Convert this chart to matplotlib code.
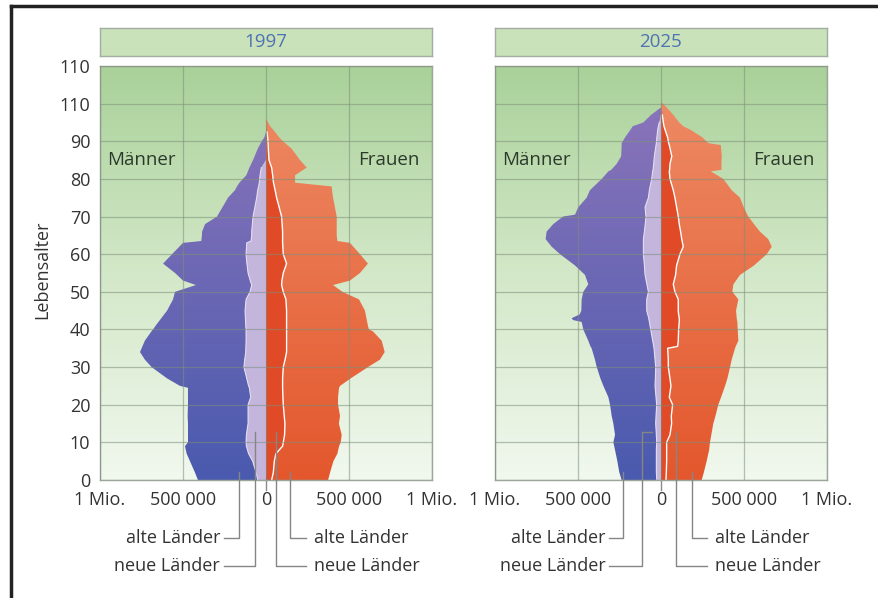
import matplotlib
matplotlib.use('Agg')
import matplotlib.pyplot as plt
import numpy as np
from matplotlib.colors import LinearSegmentedColormap
from matplotlib.lines import Line2D

plt.rcParams['font.family'] = ['Open Sans', 'DejaVu Sans']

# --- Daten (Tausend Personen) ---
ages_1997 = [0, 2, 5, 7, 9, 10, 12, 15, 17, 20, 22, 24.5, 25, 27, 30, 32, 34, 37, 39.5, 40,
             41, 45, 48, 50, 51.8, 53, 55, 57.5, 60, 63, 63.5, 65, 66, 68, 70, 75, 77, 78, 79,
             81, 83, 85, 88, 90, 91, 92.5, 94, 96]
men_total_1997 = [410, 428, 458, 478, 488, 470, 470, 470, 472, 470, 470, 470, 518, 596, 689, 730,
                  759, 730, 690, 680, 665, 596, 560, 548, 422, 500, 548, 620, 566, 500, 390, 386,
                  385, 367, 295, 229, 187, 175, 160, 118, 100, 78, 50, 26, 10, 0, 0, 0]
men_neue_1997 = [50, 60, 80, 105, 118, 120, 118, 108, 108, 108, 92, 100, 105, 116, 133, 128, 122,
                 120, 120, 120, 122, 126, 120, 96, 86, 95, 108, 115, 120, 116, 90, 86, 86, 82, 78,
                 56, 50, 45, 40, 36, 28, 0, 0, 0, 0, 0, 0, 0]
women_total_1997 = [374, 386, 406, 430, 440, 450, 456, 439, 446, 434, 434, 440, 446, 510, 614, 687,
                    715, 697, 644, 620, 614, 596, 560, 460, 404, 506, 566, 614, 566, 506, 430, 426,
                    426, 426, 426, 404, 398, 396, 175, 175, 245, 205, 155, 102, 80, 54, 25, 0]
women_neue_1997 = [34, 44, 50, 60, 100, 104, 112, 114, 110, 104, 102, 100, 100, 100, 104, 115, 124,
                   124, 124, 124, 124, 124, 120, 104, 94, 96, 104, 124, 104, 100, 100, 100, 100, 97,
                   94, 64, 55, 50, 45, 40, 34, 18, 14, 12, 10, 6, 0, 0]

ages_2025 = [0, 2, 5, 8, 10, 12, 15, 17, 20, 22, 25, 27, 30, 32, 35, 35.5, 37, 40, 42, 42.5, 43,
             44, 45, 48, 50, 52, 54.5, 57, 60, 62, 64, 66, 68, 70, 70.5, 72.5, 75, 77, 80, 82,
             82.4, 84, 86, 89, 89.5, 91, 93, 94, 95, 97, 99, 100.5]
men_total_2025 = [237, 251, 263, 277, 287, 277, 287, 297, 307, 317, 347, 365, 387, 398, 418, 425,
                  438, 468, 478, 530, 538, 490, 480, 478, 468, 438, 458, 518, 608, 659, 695, 689,
                  649, 590, 518, 498, 448, 428, 357, 317, 300, 267, 240, 237, 237, 217, 185, 170,
                  106, 60, 0, 0]
men_neue_2025 = [25, 28, 28, 28, 26, 28, 32, 30, 26, 30, 36, 34, 32, 36, 42, 44, 50, 62, 70, 72,
                 74, 80, 86, 86, 76, 85, 96, 100, 106, 106, 106, 100, 95, 90, 92, 96, 76, 70, 56,
                 50, 48, 44, 40, 30, 28, 25, 20, 16, 10, 0, 0, 0]
women_total_2025 = [245, 258, 275, 290, 295, 303, 315, 328, 345, 362, 386, 400, 416, 426, 446, 450,
                    466, 462, 460, 458, 456, 454, 452, 466, 430, 436, 476, 560, 637, 667, 646, 596,
                    560, 526, 520, 498, 476, 426, 375, 300, 364, 364, 366, 360, 285, 250, 180, 134,
                    110, 74, 34, 0]
women_neue_2025 = [30, 32, 34, 34, 34, 54, 64, 62, 70, 50, 60, 54, 44, 44, 40, 100, 104, 106, 110,
                   110, 110, 106, 104, 104, 84, 74, 88, 94, 114, 134, 125, 118, 110, 104, 102, 94,
                   84, 74, 54, 50, 52, 54, 65, 50, 46, 40, 25, 18, 14, 8, 0, 0]

years = ['1997', '2025']
x_ticks = [-1e6, -5e5, 0, 5e5, 1e6]
x_labels = ['1 Mio.', '500 000', '0', '500 000', '1 Mio.']
y_ticks = list(range(0, 111, 10))
y_labels = ['0', '10', '20', '30', '40', '50', '60', '70', '80', '90', '110', '110']

panels = [
    (ages_1997, men_total_1997, men_neue_1997, women_total_1997, women_neue_1997),
    (ages_2025, men_total_2025, men_neue_2025, women_total_2025, women_neue_2025),
]

# Positionen der Hinweislinien (Daten-x) je Panel: Männer alt, Männer neu, Frauen neu, Frauen alt
leaders = [
    (-161e3, -66e3, 60e3, 145e3, -253e3, 241e3),
    (-231e3, -116e3, 90e3, 185e3, -311e3, 275e3),
]

W, H = 879, 598
fig = plt.figure(figsize=(W / 100, H / 100), dpi=100)
fig.patch.set_facecolor('white')

bg_cmap = LinearSegmentedColormap.from_list('bg', ['#f1f8ee', '#d3e8c8', '#a9d199'])
grad = np.linspace(0, 1, 256)[:, None]


def grad_fill(ax, ages, x0, x1, c_bot, c_top):
    poly = ax.fill_betweenx(ages, x0, x1, facecolor='none', edgecolor='none')
    cmap = LinearSegmentedColormap.from_list('f', [c_bot, c_top])
    im = ax.imshow(grad, cmap=cmap, extent=(-1e6, 1e6, 0, 100), origin='lower',
                   aspect='auto', zorder=2, interpolation='bilinear')
    im.set_clip_path(poly.get_paths()[0], transform=ax.transData)


for i, (ages, m_tot, m_neu, w_tot, w_neu) in enumerate(panels):
    left = (100 if i == 0 else 495) / W
    ax = fig.add_axes([left, (H - 480) / H, 332 / W, 414 / H])
    ages = np.array(ages)
    m_tot = np.array(m_tot) * 1e3
    m_neu = np.array(m_neu) * 1e3
    w_tot = np.array(w_tot) * 1e3
    w_neu = np.array(w_neu) * 1e3

    ax.imshow(grad, cmap=bg_cmap, extent=(-1e6, 1e6, 0, 110), origin='lower',
              aspect='auto', zorder=0)

    # Männer: alte Länder außen, neue Länder innen
    grad_fill(ax, ages, -m_tot, -m_neu, '#4a5aae', '#8a74ba')
    ax.fill_betweenx(ages, -m_neu, 0, facecolor='#c4b5dd', edgecolor='none', zorder=2.2)
    ax.plot(-m_neu[m_neu > 0], ages[m_neu > 0], color='#e4dcf0', lw=0.8, zorder=2.3)
    # Frauen
    grad_fill(ax, ages, w_neu, w_tot, '#e4572d', '#ed8963')
    ax.fill_betweenx(ages, 0, w_neu, facecolor='#e04a26', edgecolor='none', zorder=2.2)
    ax.plot(w_neu[w_neu > 0], ages[w_neu > 0], color='white', lw=1.0, zorder=2.3)

    ax.set_xlim(-1e6, 1e6)
    ax.set_ylim(0, 110)
    ax.set_axisbelow(False)
    ax.set_xticks(x_ticks)
    ax.set_yticks(y_ticks)
    ax.grid(True, color='#7d8f7a', lw=0.9, alpha=0.55)
    ax.set_xticklabels(x_labels)
    if i == 0:
        ax.set_yticklabels(y_labels)
    else:
        ax.set_yticklabels([])
    ax.tick_params(length=0, labelsize=13, colors='#333333', pad=8)
    ax.tick_params(axis='y', pad=7)
    for s in ax.spines.values():
        s.set_color('#9aa69a')
        s.set_linewidth(1)

    ax.text(-0.955e6, 85, 'Männer', fontsize=13.5, color='#2c3a2c', ha='left', va='center', zorder=4)
    ax.text(0.925e6, 85, 'Frauen', fontsize=13.5, color='#2c3a2c', ha='right', va='center', zorder=4)

    # kleiner Strich bei 0
    ax.plot([0, 0], [0, -2.6], color='#8a8a8a', lw=1, clip_on=False)

    # Hinweislinien
    ma, mn, wn, wa, lend, rend = leaders[i]
    y_alt, y_neu = -15.5, -22.8
    lc = '#858585'
    ax.plot([ma, ma, lend], [2.2, y_alt, y_alt], color=lc, lw=1, clip_on=False, zorder=5)
    ax.plot([mn, mn, lend], [12.8, y_neu, y_neu], color=lc, lw=1, clip_on=False, zorder=5)
    ax.plot([wn, wn, rend], [12.8, y_neu, y_neu], color=lc, lw=1, clip_on=False, zorder=5)
    ax.plot([wa, wa, rend], [2.2, y_alt, y_alt], color=lc, lw=1, clip_on=False, zorder=5)
    if i == 1:
        ax.plot([mn, -56e3], [12.8, 12.8], color=lc, lw=1, zorder=5)
    ax.text(lend - 24e3, y_alt, 'alte Länder', fontsize=13, color='#333333',
            ha='right', va='center', clip_on=False)
    ax.text(lend - 24e3, y_neu, 'neue Länder', fontsize=13, color='#333333',
            ha='right', va='center', clip_on=False)
    ax.text(rend + 48e3, y_alt, 'alte Länder', fontsize=13, color='#333333',
            ha='left', va='center', clip_on=False)
    ax.text(rend + 48e3, y_neu, 'neue Länder', fontsize=13, color='#333333',
            ha='left', va='center', clip_on=False)

    # Kopfzeile mit Jahr
    hx = fig.add_axes([left, (H - 56) / H, 332 / W, 28.5 / H])
    hx.set_facecolor('#c9e2b9')
    hx.set_xticks([])
    hx.set_yticks([])
    for s in hx.spines.values():
        s.set_color('#a3ada3')
        s.set_linewidth(1)
    hx.text(0.5, 0.5, years[i], fontsize=13.5, color='#4f72b3', ha='center', va='center',
            transform=hx.transAxes)

fig.text(42 / W, 1 - 270 / H, 'Lebensalter', rotation=90, fontsize=13, color='#333333',
         ha='center', va='center')

# Rahmen (nur links und oben sichtbar)
fig.add_artist(Line2D([11 / W, 11 / W], [0, 1 - 6 / H], color='#222222', lw=2.5))
fig.add_artist(Line2D([11 / W, 1], [1 - 6 / H, 1 - 6 / H], color='#222222', lw=2.5))

fig.savefig('out.png', dpi=100)
